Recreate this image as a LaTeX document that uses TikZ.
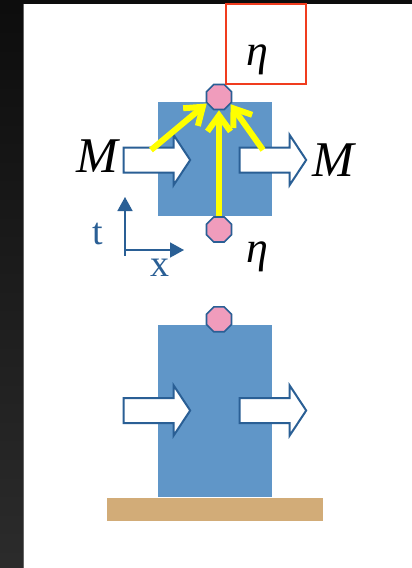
\documentclass[tikz,border=0pt]{standalone}
\usepackage{fontspec}
\setmainfont{Liberation Serif}
\usetikzlibrary{shapes.geometric,arrows.meta,positioning,calc}
\definecolor{blockblue}{RGB}{96,150,200}
\definecolor{edgeblue}{RGB}{42,95,149}
\definecolor{etapink}{RGB}{240,156,188}
\definecolor{groundtan}{RGB}{210,172,120}
\definecolor{boxred}{RGB}{240,60,30}
\definecolor{pullyellow}{RGB}{255,255,0}

\begin{document}
\begin{tikzpicture}[x=1pt,y=-1pt,
  block/.style={rectangle,fill=blockblue,inner sep=0pt},
  eta/.style={regular polygon,regular polygon sides=8,draw=edgeblue,line width=1.6pt,
              fill=etapink,minimum size=27pt,inner sep=0pt},
  flow/.style={draw=edgeblue,line width=2pt,fill=white,line join=miter},
  blockarrow/.pic={\draw[flow] (0,-12.5) -- (50,-12.5) -- (50,-25) -- (66.5,0)
                   -- (50,25) -- (50,12.5) -- (0,12.5) -- cycle;},
  pull/.style={-{Straight Barb[length=16pt,width=23pt]},line width=6pt,pullyellow},
  timeaxis/.style={-{Triangle[length=14pt,width=15pt]},line width=1.6pt,edgeblue},
  mlbl/.style={font=\fontsize{50}{60}\selectfont\itshape,inner sep=0pt},
  etalbl/.style={font=\fontsize{44}{52}\selectfont\itshape,inner sep=0pt},
  axlbl/.style={font=\fontsize{38}{46}\selectfont,text=edgeblue,inner sep=0pt}
]
\useasboundingbox (0,0) rectangle (412,568);
% slide frame
\fill[white] (0,0) rectangle (412,568);
\shade[top color=black!95,bottom color=black!83] (0,0) rectangle (23,568);
\fill[black!95] (0,0) rectangle (412,3.5);
\draw[black!60,line width=1pt] (23.5,3.5) -- (23.5,568);

% upper picture
\node[block,minimum width=114pt,minimum height=113.7pt] (upblock) at (215.3,159.2) {};
\pic at (123.7,160) {blockarrow};
\pic at (239.7,160) {blockarrow};
\node[eta] (topeta) at (219,97) {};
\node[eta] (boteta) at (219,229.5) {};
\node[rectangle,draw=boxred,line width=2pt,minimum width=80.6pt,minimum height=80pt,
      inner sep=0pt] (etabox) at (266,44.3) {};
\node[etalbl] (etatop) at (257.5,59.5) {η};
\node[etalbl] (etabot) at (257.5,257) {η};
\node[mlbl] (mleft) at (97,156.5) {M};
\node[mlbl] (mright) at (333,160) {M};

\coordinate (lpull) at (151,150);
\coordinate (rpull) at (263,150);
\draw[pull] (lpull) -- (topeta.208);
\draw[pull] (rpull) -- (topeta.328);
\draw[pull] (boteta) -- (topeta);

\coordinate (orig) at (125,250);
\coordinate (tend) at (125,197);
\coordinate (xend) at (184,250);
\draw[timeaxis] (125,255.5) -- (tend);
\draw[timeaxis] (orig) -- (xend);
\node[axlbl] (tlbl) at (98,234) {t};
\node[axlbl] (xlbl) at (160,267.5) {x};

% lower picture
\node[block,minimum width=114pt,minimum height=171.7pt] (lowblock) at (215.3,410.9) {};
\node[rectangle,fill=groundtan,minimum width=216pt,minimum height=22.4pt,inner sep=0pt]
      (ground) at (215,509.5) {};
\pic at (123.7,410.5) {blockarrow};
\pic at (239.7,410.5) {blockarrow};
\node[eta] (loweta) at (219,319.3) {};
\end{tikzpicture}
\end{document}
